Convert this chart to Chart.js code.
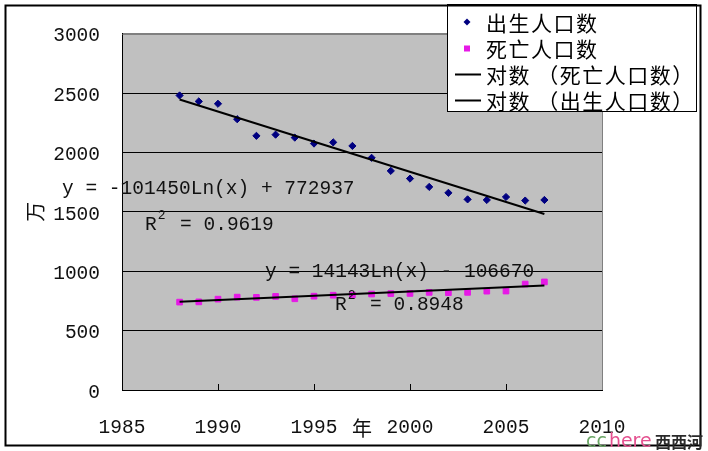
<!DOCTYPE html>
<html>
<head>
<meta charset="utf-8">
<script src="https://cdn.jsdelivr.net/npm/chart.js@4.4.1/dist/chart.umd.min.js"></script>
<style>
  html, body { margin: 0; padding: 0; background: #fff; }
  #wrap { width: 708px; height: 451px; position: relative; }
</style>
</head>
<body>
<div id="wrap"><canvas id="chart" width="708" height="451"></canvas></div>
<script>
// data
const years = [1988, 1989, 1990, 1991, 1992, 1993, 1994, 1995, 1996, 1997,
               1998, 1999, 2000, 2001, 2002, 2003, 2004, 2005, 2006, 2007];
const births = [2480, 2430, 2410, 2280, 2140, 2150, 2125, 2075, 2085, 2055,
                1955, 1845, 1780, 1710, 1660, 1605, 1600, 1625, 1595, 1600];
const deaths = [740, 742, 765, 782, 780, 788, 768, 790, 798, 800,
                808, 812, 813, 822, 819, 822, 832, 833, 892, 910];

// log trendlines, end points
const trendYears = [1988, 2007];
const birthTrend = [2446, 1482];
const deathTrend = [744, 879];

const xTicks = [1985, 1990, 1995, 2000, 2005, 2010];
const yTicks = [0, 500, 1000, 1500, 2000, 2500, 3000];

const seriesNames = ['出生人口数', '死亡人口数', '对数 （死亡人口数）', '对数 （出生人口数）'];
const birthEq = ['y = -101450Ln(x) + 772937', '0.9619'];
const deathEq = ['y = 14143Ln(x) - 106670', '0.8948'];

const NUM_FONT = '"Liberation Mono", monospace';
const CJK_FONT = '"Noto Sans CJK SC", sans-serif';

const toPoints = (xs, ys) => xs.map((x, i) => ({ x, y: ys[i] }));

Chart.defaults.font.family = NUM_FONT;
Chart.defaults.color = '#111';

const plotArea = {
  id: 'plotArea',
  beforeDraw(chart) {
    const { ctx, chartArea: a } = chart;
    ctx.save();
    ctx.fillStyle = '#fff';
    ctx.fillRect(0, 0, chart.width, chart.height);
    ctx.fillStyle = '#c0c0c0';
    ctx.fillRect(a.left, a.top, a.right - a.left, a.bottom - a.top);
    ctx.restore();
  },
  beforeDatasetsDraw(chart) {
    const { ctx, chartArea: a } = chart;
    ctx.save();
    ctx.strokeStyle = '#808080';
    ctx.lineWidth = 1;
    ctx.beginPath();
    ctx.moveTo(Math.round(a.left) + 0.5, Math.round(a.top) + 0.5);
    ctx.lineTo(Math.round(a.right) + 0.5, Math.round(a.top) + 0.5);
    ctx.lineTo(Math.round(a.right) + 0.5, Math.round(a.bottom));
    ctx.stroke();
    // inside tick marks on the x axis
    const xs = chart.scales.x;
    ctx.strokeStyle = '#000';
    xs.ticks.forEach(t => {
      if (t.value <= xs.min || t.value >= xs.max) return;
      const px = Math.round(xs.getPixelForValue(t.value)) + 0.5;
      ctx.beginPath();
      ctx.moveTo(px, a.bottom);
      ctx.lineTo(px, a.bottom - 6);
      ctx.stroke();
    });
    ctx.restore();
  }
};

function drawR2(ctx, x, y, value) {
  const cw = ctx.measureText('0').width;
  ctx.fillText('R', x, y);
  ctx.save();
  ctx.font = '13px ' + NUM_FONT;
  ctx.fillText('2', x + cw + 1, y - 9);
  ctx.restore();
  ctx.fillText('  = ' + value, x + cw, y);
}

const overlay = {
  id: 'overlay',
  afterDraw(chart) {
    const { ctx } = chart;
    ctx.save();
    // equations
    ctx.fillStyle = '#111';
    ctx.font = '19.5px ' + NUM_FONT;
    ctx.textBaseline = 'middle';
    ctx.textAlign = 'left';
    ctx.fillText(birthEq[0], 62, 189);
    drawR2(ctx, 145, 225, birthEq[1]);
    ctx.fillText(deathEq[0], 265, 272);
    drawR2(ctx, 335, 305, deathEq[1]);

    // legend
    ctx.fillStyle = '#fff';
    ctx.fillRect(447, 4, 251, 108);
    ctx.strokeStyle = '#000';
    ctx.lineWidth = 1;
    ctx.strokeRect(447.5, 4.5, 249, 107);
    ctx.font = '21px ' + CJK_FONT;
    chart.data.datasets.forEach((ds, i) => {
      const cy = 22 + i * 26;
      if (ds.showLine) {
        ctx.strokeStyle = ds.borderColor;
        ctx.lineWidth = 2;
        ctx.beginPath();
        ctx.moveTo(455, cy + 0.5);
        ctx.lineTo(481, cy + 0.5);
        ctx.stroke();
      } else {
        ctx.fillStyle = ds.backgroundColor;
        ctx.beginPath();
        if (ds.pointStyle === 'rectRot') {
          ctx.moveTo(467, cy - 3.5);
          ctx.lineTo(470.5, cy);
          ctx.lineTo(467, cy + 3.5);
          ctx.lineTo(463.5, cy);
        } else {
          ctx.rect(464, cy - 2.5, 6, 6);
        }
        ctx.fill();
      }
      ctx.fillStyle = '#000';
      ctx.letterSpacing = '1.5px';
      ctx.fillText(ds.label, 486, cy + 1);
      ctx.letterSpacing = '0px';
    });

    // outer frame
    ctx.strokeStyle = '#000';
    ctx.strokeRect(5.5, 5.5, 695, 440);

    // watermark
    ctx.textBaseline = 'alphabetic';
    ctx.font = '19px "DejaVu Sans", sans-serif';
    ctx.fillStyle = '#6aa564';
    ctx.fillText('cc', 586, 447);
    const ccw = ctx.measureText('cc').width;
    ctx.fillStyle = '#e4508f';
    ctx.fillText('here', 588 + ccw, 447);
    ctx.fillStyle = '#2a2a2a';
    ctx.font = 'bold 16px ' + CJK_FONT;
    ctx.fillText('西西河', 655, 448);
    ctx.restore();
  }
};

new Chart(document.getElementById('chart'), {
  type: 'scatter',
  data: {
    datasets: [
      {
        label: seriesNames[0],
        data: toPoints(years, births),
        pointStyle: 'rectRot',
        pointRadius: 3.6,
        pointBorderWidth: 1,
        backgroundColor: '#000080',
        borderColor: '#000080',
        order: 1
      },
      {
        label: seriesNames[1],
        data: toPoints(years, deaths),
        pointStyle: 'rect',
        pointRadius: 4,
        pointBorderWidth: 1,
        backgroundColor: '#e619e6',
        borderColor: '#e619e6',
        order: 1
      },
      {
        label: seriesNames[2],
        data: toPoints(trendYears, deathTrend),
        showLine: true,
        pointRadius: 0,
        borderColor: '#000',
        borderWidth: 2,
        order: 0
      },
      {
        label: seriesNames[3],
        data: toPoints(trendYears, birthTrend),
        showLine: true,
        pointRadius: 0,
        borderColor: '#000',
        borderWidth: 2,
        order: 0
      }
    ]
  },
  options: {
    responsive: false,
    animation: false,
    layout: { padding: { left: 0, right: 106, top: 33, bottom: 0 } },
    plugins: {
      legend: { display: false },
      tooltip: { enabled: false }
    },
    scales: {
      x: {
        type: 'linear',
        min: 1985,
        max: 2010,
        afterBuildTicks: (scale) => { scale.ticks = xTicks.map(v => ({ value: v })); },
        afterFit: (scale) => { scale.height = 61; },
        ticks: {
          font: { size: 19.5 },
          color: '#111',
          padding: 26,
          maxRotation: 0,
          autoSkip: false,
          callback: (v) => String(v)
        },
        grid: { drawOnChartArea: false, drawTicks: false },
        border: { display: true, color: '#000', width: 1 },
        title: {
          display: true,
          text: '年',
          font: { family: CJK_FONT, size: 20 },
          color: '#111',
          padding: { top: 0, bottom: 11 }
        }
      },
      y: {
        min: 0,
        max: 3000,
        afterBuildTicks: (scale) => { scale.ticks = yTicks.map(v => ({ value: v })); },
        afterFit: (scale) => { scale.width = 122; },
        ticks: {
          font: { size: 19.5 },
          color: '#111',
          padding: 22,
          labelOffset: 2.5,
          callback: (v) => String(v)
        },
        grid: {
          drawTicks: false,
          color: (c) => (c.tick && c.tick.value === 3000 ? '#808080' : '#000'),
          lineWidth: 1
        },
        border: { display: true, color: '#000', width: 1 },
        title: {
          display: true,
          text: '万',
          font: { family: CJK_FONT, size: 20 },
          color: '#111',
          padding: { top: 23, bottom: 0 }
        }
      }
    }
  },
  plugins: [plotArea, overlay]
});
</script>
</body>
</html>
